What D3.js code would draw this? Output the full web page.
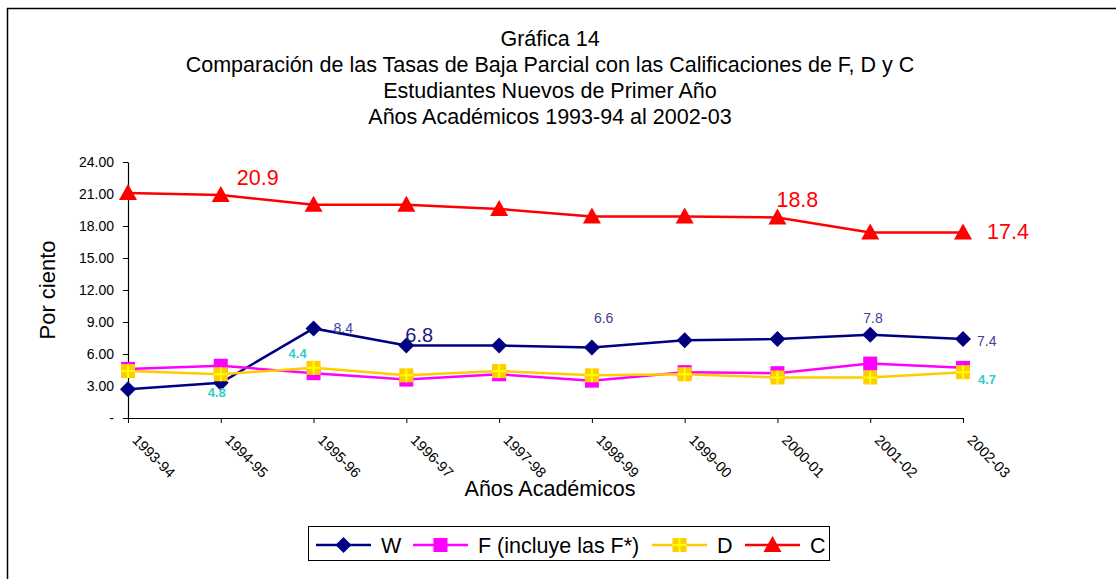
<!DOCTYPE html>
<html>
<head>
<meta charset="utf-8">
<script src="https://cdn.jsdelivr.net/npm/d3@7"></script>
<style>
  body { margin: 0; background: #fff; }
  svg text { font-family: "Liberation Sans", Arial, sans-serif; }
</style>
</head>
<body>
<svg id="chart" width="1116" height="579"></svg>
<script>
// data
const categories = ['1993-94','1994-95','1995-96','1996-97','1997-98','1998-99','1999-00','2000-01','2001-02','2002-03'];
const wValues = [2.7, 3.3, 8.4, 6.8, 6.8, 6.6, 7.3, 7.4, 7.8, 7.4];
const fValues = [4.6, 4.9, 4.2, 3.6, 4.1, 3.5, 4.3, 4.2, 5.1, 4.7];
const dValues = [4.4, 4.1, 4.7, 4.0, 4.4, 4.0, 4.1, 3.8, 3.8, 4.3];
const cValues = [21.1, 20.9, 20.0, 20.0, 19.6, 18.9, 18.9, 18.8, 17.4, 17.4];
const yTicks = [0, 3, 6, 9, 12, 15, 18, 21, 24];
const titleLines = [
  'Gráfica 14',
  'Comparación de las Tasas de Baja Parcial con las Calificaciones de F, D y C',
  'Estudiantes Nuevos de Primer Año',
  'Años Académicos 1993-94 al 2002-03'
];
// data labels: series, point index, text
const labelSeries = ['C','C','C','W','W','W','W','W','D','D','D'];
const labelIndex  = [1, 7, 9, 2, 3, 5, 8, 9, 1, 2, 9];
const labelText   = ['20.9','18.8','17.4','8.4','6.8','6.6','7.8','7.4','4.8','4.4','4.7'];

// styling / placement
const labelOffsets = [[16,-10],[-1,-10],[24,7],[20,5],[-1,-3],[2,-25],[-7,-12],[14,7],[-13,23],[-25,-10],[15,12]];
const labelStyle = {
  C: { fill: '#FF0000', size: 21.5, weight: 'normal' },
  W: { fill: '#4040A0', size: 14, weight: 'normal' },
  D: { fill: '#33CCCC', size: 13, weight: 'bold' }
};
const series = [
  { key: 'W', name: 'W', values: wValues, color: '#000080', marker: 'diamond' },
  { key: 'F', name: 'F (incluye las F*)', values: fValues, color: '#FF00FF', marker: 'square' },
  { key: 'D', name: 'D', values: dValues, color: '#FFCC00', marker: 'plus' },
  { key: 'C', name: 'C', values: cValues, color: '#FF0000', marker: 'triangle' }
];

const svg = d3.select('#chart');

// outer frame (top + left only, as cropped in the reference)
svg.append('line').attr('x1', 7).attr('x2', 1116).attr('y1', 8.5).attr('y2', 8.5)
  .attr('stroke', '#000').attr('stroke-width', 1.5);
svg.append('line').attr('x1', 7.5).attr('x2', 7.5).attr('y1', 8).attr('y2', 579)
  .attr('stroke', '#000').attr('stroke-width', 1.5);

// titles
svg.selectAll('.title').data(titleLines).enter().append('text')
  .attr('x', 550).attr('y', (d, i) => 46 + i * 26)
  .attr('text-anchor', 'middle')
  .style('font-size', '21.5px')
  .text(d => d);

// scales
const x = d3.scalePoint().domain(categories).range([128, 963]);
const y = d3.scaleLinear().domain([0, 24]).range([418, 162]);

// y axis
const yAxis = svg.append('g')
  .attr('transform', 'translate(128,0)')
  .call(d3.axisLeft(y).tickValues(yTicks).tickSize(5).tickSizeOuter(0)
    .tickFormat(d => d === 0 ? '-' : d3.format('.2f')(d)));
yAxis.select('.domain').attr('stroke', '#000').attr('stroke-width', 1.2);
yAxis.selectAll('.tick line').attr('stroke', '#000');
yAxis.selectAll('.tick text').attr('x', -14).attr('fill', '#000')
  .style('font-size', '14px').style('font-family', '"Liberation Sans", Arial, sans-serif');

// x axis
const xAxis = svg.append('g')
  .attr('transform', 'translate(0,418)')
  .call(d3.axisBottom(x).tickSize(5).tickSizeOuter(0));
xAxis.select('.domain').attr('stroke', '#000').attr('stroke-width', 1.2);
xAxis.selectAll('.tick line').attr('stroke', '#000');
xAxis.selectAll('.tick text')
  .attr('y', 0).attr('dy', 0)
  .attr('text-anchor', 'start')
  .attr('transform', 'translate(3,23) rotate(45)')
  .attr('fill', '#000')
  .style('font-size', '14.5px').style('font-family', '"Liberation Sans", Arial, sans-serif');

// axis titles
svg.append('text')
  .attr('transform', 'translate(55,290) rotate(-90)')
  .attr('text-anchor', 'middle')
  .style('font-size', '22px')
  .text('Por ciento');
svg.append('text')
  .attr('x', 550).attr('y', 496)
  .attr('text-anchor', 'middle')
  .style('font-size', '21.5px')
  .text('Años Académicos');

// marker drawing
function drawMarker(g, type, color) {
  if (type === 'diamond') {
    g.append('path').attr('d', 'M0,-8L8,0L0,8L-8,0Z').attr('fill', color);
  } else if (type === 'square') {
    g.append('rect').attr('x', -7).attr('y', -7).attr('width', 14).attr('height', 14).attr('fill', color);
  } else if (type === 'plus') {
    g.append('rect').attr('x', -7).attr('y', -7).attr('width', 14).attr('height', 14).attr('fill', color);
    g.append('path').attr('d', 'M0,-7V7M-7,0H7').attr('stroke', '#FFFF00').attr('stroke-width', 2);
  } else if (type === 'triangle') {
    g.append('path').attr('d', 'M0,-9L9,7L-9,7Z').attr('fill', color);
  }
}

const line = d3.line().x((d, i) => x(categories[i])).y(d => y(d));

series.forEach(s => {
  svg.append('path')
    .datum(s.values)
    .attr('fill', 'none')
    .attr('stroke', s.color)
    .attr('stroke-width', 2.5)
    .attr('d', line);
  s.values.forEach((v, i) => {
    const g = svg.append('g').attr('transform', `translate(${x(categories[i])},${y(v)})`);
    drawMarker(g, s.marker, s.color);
  });
});

// data labels
labelText.forEach((t, k) => {
  const s = series.find(d => d.key === labelSeries[k]);
  const i = labelIndex[k];
  const st = labelStyle[labelSeries[k]];
  const big = labelSeries[k] === 'W' && t === '6.8';
  svg.append('text')
    .attr('x', x(categories[i]) + labelOffsets[k][0])
    .attr('y', y(s.values[i]) + labelOffsets[k][1])
    .attr('fill', big ? '#1A1A80' : st.fill)
    .style('font-size', (big ? 20 : st.size) + 'px')
    .style('font-weight', st.weight)
    .text(t);
});

// legend
const legend = svg.append('g');
legend.append('rect')
  .attr('x', 308.5).attr('y', 526.5).attr('width', 521).attr('height', 34)
  .attr('fill', '#fff').attr('stroke', '#000').attr('stroke-width', 1);
const legendX = [316, 413, 652, 745];
series.forEach((s, i) => {
  const lx = legendX[i];
  legend.append('line')
    .attr('x1', lx).attr('x2', lx + 55).attr('y1', 545).attr('y2', 545)
    .attr('stroke', s.color).attr('stroke-width', 2.5);
  const g = legend.append('g').attr('transform', `translate(${lx + 27.5},545)`);
  drawMarker(g, s.marker, s.color);
  legend.append('text')
    .attr('x', lx + 65).attr('y', 553)
    .style('font-size', '21.5px')
    .text(s.name);
});
</script>
</body>
</html>
